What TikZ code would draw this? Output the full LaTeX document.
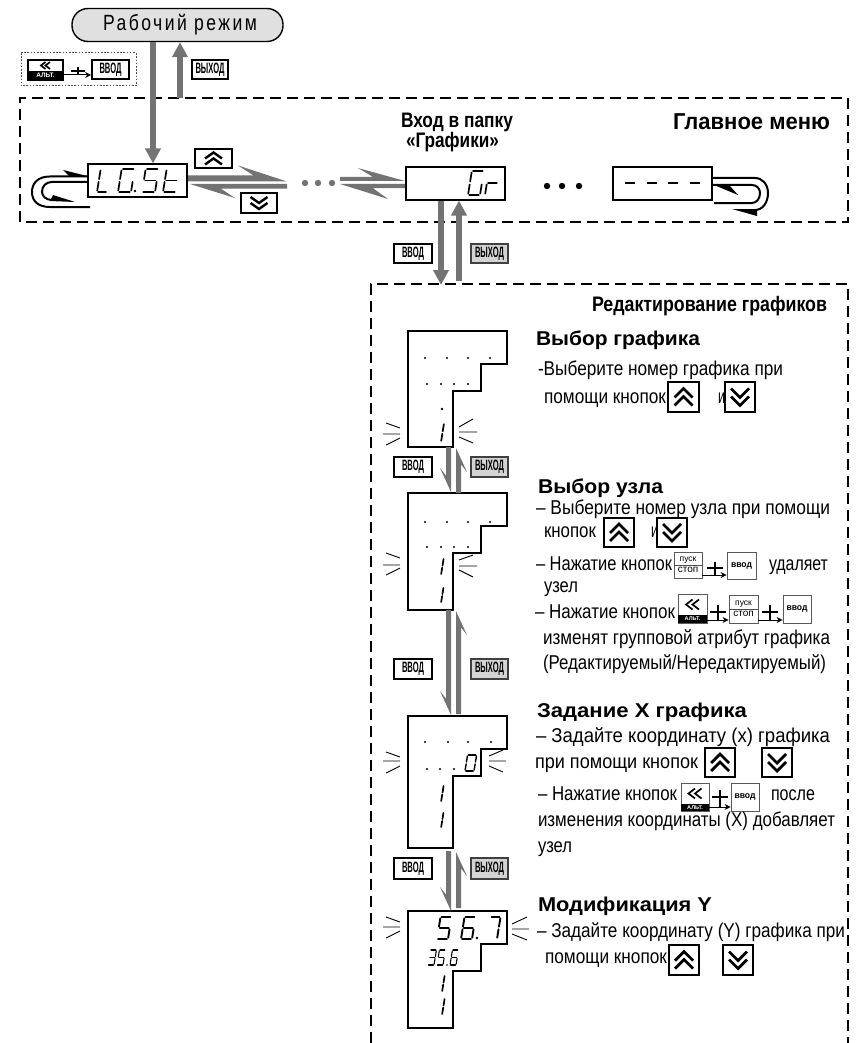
\documentclass[tikz,border=0pt]{standalone}
\usepackage{graphicx}
\usepackage{fontspec}
\setmainfont{Liberation Sans}
\newfontfamily\spacedfont[LetterSpace=14]{Liberation Sans}
\usetikzlibrary{arrows.meta,calc}
\definecolor{flow}{gray}{0.45}
\tikzset{
  btnthick/.style={draw=black,line width=1.6pt,fill=white,rectangle,inner sep=0pt},
  btngray/.style={draw=black!75,line width=1.5pt,fill=black!17,rectangle,inner sep=0pt},
  btnthin/.style={draw=black!65,line width=.8pt,fill=white,rectangle,inner sep=0pt},
  btnchev/.style={draw=black,line width=1.8pt,fill=white,rectangle,inner sep=0pt},
  dispbox/.style={draw=black,line width=1.1pt,fill=white,rectangle,inner sep=0pt},
  frameline/.style={draw=black,line width=1.5pt,dash pattern=on 11pt off 6pt},
  flowarrow/.style={draw=flow,fill=flow,line width=5.5pt,-{Triangle[length=15pt,width=15pt]}},
  flash/.style={draw=black,line width=.9pt},
  segl/.style={draw=black,line cap=round},
  plusline/.style={draw=black,line width=1pt},
  txtnode/.style={anchor=base west,inner sep=0pt,outer sep=0pt},
}
% text set to a given width, horizontally scaled
\newcommand{\txt}[5]{\node[txtnode] (#1) at (#2,#3) {\resizebox{#4pt}{\height}{\fontsize{20}{22}\selectfont #5}};}
\newcommand{\hdr}[5]{\node[txtnode] (#1) at (#2,#3) {\resizebox{#4pt}{\height}{\fontsize{20}{22}\selectfont\bfseries #5}};}
\newcommand{\ttl}[6]{\node[txtnode] (#1) at (#2,#3) {\resizebox{#4pt}{\height}{\fontsize{#5}{24}\selectfont\bfseries #6}};}
% button by corners
\newcommand{\btn}[7]{\node[#6,minimum width={(#4-#2)*1pt},minimum height={(#5-#3)*1pt}] (#1) at ({(#2+#4)/2},{(#3+#5)/2}) {\resizebox{#7pt}{\height}{\btnlabel}};}
\newcommand{\lab}[5]{\def\btnlabel{\fontsize{#3}{#3}\selectfont\bfseries #4}\btn#1{#2}{#5}}
% chevrons in a button
\newcommand{\chevs}[6]{\begin{scope}[shift={(#1.center)},yscale=#6]
 \draw[draw=black,line width=#5pt,miter limit=4] ({-#2},{-(#3+#4)/2+#3}) -- (0,{-(#3+#4)/2}) -- (#2,{-(#3+#4)/2+#3});
 \draw[draw=black,line width=#5pt,miter limit=4] ({-#2},{-(#3+#4)/2+#3+#4}) -- (0,{-(#3+#4)/2+#4}) -- (#2,{-(#3+#4)/2+#3+#4});
\end{scope}}
% ALT button
\newcommand{\altbtn}[9]{\node[#6,minimum width={(#4-#2)*1pt},minimum height={(#5-#3)*1pt}] (#1) at ({(#2+#4)/2},{(#3+#5)/2}) {};
 \fill[black] (#2,#7) rectangle (#4,#5);
 \node[inner sep=0pt,text=white] (#1t) at ({(#2+#4)/2},{(#7+#5)/2}) {\fontsize{#8}{#8}\selectfont\bfseries АЛЬТ.};
 \begin{scope}[shift={({(#2+#4)/2},{(#3+#7)/2})}]
  \draw[draw=black,line width=1.7pt] (0,{-#9}) -- ({-1.3*#9},0) -- (0,#9);
  \draw[draw=black,line width=1.7pt] ({1.3*#9},{-#9}) -- (0,0) -- ({1.3*#9},#9);
 \end{scope}}
% plus-and-arrow between two buttons
\newcommand{\plusarrow}[7]{
 \draw[plusline,-{Stealth[length=6pt,width=6pt]}] (#1.east |- 0,#3) -- (#2.west |- 0,#3);
 \draw[plusline,line width=1.2pt] ({#4-#6},#5) -- ({#4+#6},#5);
 \draw[plusline,line width=1.2pt] (#4,#7) -- (#4,#3);}
% seven segment glyph
\newcommand{\mysega}{\draw[segl] (.1,0) -- (.9,0);}
\newcommand{\mysegb}{\draw[segl] (1,.06) -- (1,.44);}
\newcommand{\mysegc}{\draw[segl] (1,.56) -- (1,.94);}
\newcommand{\mysegd}{\draw[segl] (.1,1) -- (.9,1);}
\newcommand{\mysege}{\draw[segl] (0,.56) -- (0,.94);}
\newcommand{\mysegf}{\draw[segl] (0,.06) -- (0,.44);}
\newcommand{\mysegg}{\draw[segl] (.1,.5) -- (.9,.5);}
\newcommand{\sev}[6]{\begin{scope}[shift={({#1+.16*#4},#2)},x=#3pt,y=-#4pt,xslant=.16,line width=#6pt]
 \foreach \s in {#5}{\csname myseg\s\endcsname}
\end{scope}}
\newcommand{\one}[3]{\sev{#1}{#2}{0.01}{#3}{b,c}{1.7}}
% display outline
\newcommand{\display}[3]{\draw[draw=black,line width=1.1pt,fill=white] (408,#2) -- (507,#2) -- (507,{#2+33}) -- (481,{#2+33}) -- (481,{#2+60}) -- (453,{#2+60}) -- (453,#3) -- (408,#3) -- cycle;
 \coordinate (#1) at (430,#2);}
\newcommand{\dotrow}[2]{\foreach \x in {#2}{\fill[black] (\x,#1) circle (1.2pt);}}
% harpoon: tail, tip, shaft width, length, barb width, side
\newcommand{\harp}[6]{\pgfmathsetmacro\notch{.68*#4}
 \fill[flow] (#1) -- (#2) -- ($(#2)!#4pt!(#1)!#5pt!#6:(#1)$) -- ($(#2)!\notch pt!(#1)!#3pt!#6:(#1)$) -- ($(#1)!#3pt!-#6:(#2)$) -- cycle;}
\begin{document}
\begin{tikzpicture}[x=1pt,y=-1pt]
\useasboundingbox (0,0) rectangle (856,1043);
\fill[white] (0,0) rectangle (856,1043);
% frames
\draw[frameline] (20,222) -- (20,98) -- (848,98) -- (848,222) -- cycle;
\draw[frameline] (371,1043) -- (371,284) -- (848,284) -- (848,1043);
\draw[draw=black!70,line width=1pt,dash pattern=on 1.6pt off 1.6pt] (21,53) rectangle (136,86);
% working mode
\node[draw=black,line width=1.4pt,fill=black!12,rounded corners=16pt,minimum width=211pt,minimum height=33pt,inner sep=0pt] (pill) at (177.5,25) {};
\node[txtnode] (pilltext) at (103,31) {\resizebox{154pt}{\height}{\fontsize{22}{24}\spacedfont Рабочий режим}};
% display boxes of the main menu
\node[dispbox,minimum width=99pt,minimum height=33pt] (lgst) at (137.5,180.5) {};
\node[dispbox,minimum width=99pt,minimum height=33pt] (gr) at (455.5,183.5) {};
\node[dispbox,minimum width=99pt,minimum height=33pt] (dash) at (662.5,183.5) {};
\sev{97}{169}{10}{23}{f,e,d}{1.7}
\sev{118}{169}{13}{23}{a,f,e,d,c}{1.7}
\fill[black] (135,191) circle (1.3pt);
\sev{142}{169}{13}{23}{a,f,g,c,d}{1.7}
\sev{163}{169}{13}{23}{f,e,g,d}{1.7}
\sev{468}{171}{12}{24}{a,f,e,d,c}{1.7}
\sev{485}{171}{11}{24}{e,g}{1.7}
\foreach \x in {625,647,668,690}{\draw[draw=black,line width=1.7pt] (\x,183) -- ({\x+10},183);}
% buttons, top part
\altbtn{alt1}{28}{60}{63}{80}{btnthick}{71}{6.5}{3.5}
\lab{{vvod1}{92}{60}{129}{79}}{btnthick}{15}{ВВОД}{22}
\lab{{vyh1}{192}{60}{228}{79}}{btnthick}{15}{ВЫХОД}{29}
\plusarrow{alt1}{vvod1}{75}{78}{71}{7}{67}
\node[btnchev,minimum width=37pt,minimum height=19pt] (up1) at (213.5,158.5) {};
\chevs{up1}{8.5}{6}{6}{2.4}{1}
\node[btnchev,minimum width=36pt,minimum height=20pt] (dn1) at (259,203) {};
\chevs{dn1}{8.5}{6}{6}{2.4}{-1}
% main arrows
\draw[flowarrow] (153,0 |- pill.south) -- (153,0 |- lgst.north);
\coordinate (f1) at (180,98);
\draw[flowarrow] (f1) -- (180,0 |- pill.south);
% harpoons
\coordinate (h1a) at (188,181.5); \coordinate (h1b) at (287,181.5);
\coordinate (h2a) at (287,184); \coordinate (h2b) at (190,184);
\coordinate (h3a) at (340,181); \coordinate (h3b) at (405,181);
\coordinate (h4a) at (405,184); \coordinate (h4b) at (340,184);
\harp{h1a}{h1b}{6}{49}{16}{-90}
\harp{h2a}{h2b}{4.5}{45}{14}{-90}
\harp{h3a}{h3b}{4}{47}{13}{-90}
\harp{h4a}{h4b}{4}{48}{15}{-90}
\foreach \x in {305,318,332}{\fill[flow] (\x,183) circle (3.2pt);}
\foreach \x in {547,562,579}{\fill[black] (\x,186) circle (3.2pt);}
% left loop
\draw[draw=black,line width=2pt] (88,176.5) -- (50,176.5) .. controls (38,176.5) and (32,183) .. (32,192) .. controls (32,201) and (38,207) .. (50,207) -- (90,207);
\draw[draw=black,line width=2pt] (88,182) -- (52,182) .. controls (46,182) and (42,186) .. (42,192) .. controls (42,196) and (46,200) .. (52,200);
\fill[black] (87,176) -- (63,170) -- (70,177) -- cycle;
\fill[black] (53,195) -- (75,202) -- (50,201) -- cycle;
% right loop
\draw[draw=black,line width=2pt] (712,178) -- (755,178) .. controls (763,178) and (768,185) .. (768,193) .. controls (768,202) and (763,210) .. (755,210);
\draw[draw=black,line width=2pt] (712,185) -- (752,185) .. controls (757,185) and (760,189) .. (760,193) .. controls (760,198) and (757,203) .. (752,203) -- (714,203);
\fill[black] (714,185) -- (738,195) -- (730,186) -- cycle;
\fill[black] (732,209) -- (757,216) -- (757,209) -- cycle;
% titles
\ttl{t1}{401}{128}{112}{21}{Вход в папку}
\ttl{t2}{406}{148}{93}{21}{«Графики»}
\ttl{t3}{673}{130}{157}{23}{Главное меню}
\ttl{t4}{592}{311}{235}{21}{Редактирование графиков}
% Gr arrows
\coordinate (g1) at (441,285); \coordinate (g2) at (459,281);
\draw[flowarrow] (441,0 |- gr.south) -- (g1);
\draw[flowarrow] (g2) -- (459,0 |- gr.south);
\lab{{vvod2}{394}{244}{432}{263}}{btnthick}{15}{ВВОД}{22}
\lab{{vyh2}{471}{244}{508}{263}}{btngray}{15}{ВЫХОД}{29}
% displays
\display{d1}{331}{447}
\display{d2}{493}{610}
\display{d3}{716}{848}
\display{d4}{911}{1028}
% display 1
\dotrow{358}{425,447,468,490}
\dotrow{384}{427,441,454,468}
\fill[black] (442,409) circle (1.3pt);
\one{441}{423}{19}
\draw[flash] (386,423) -- (400,428) (383,434) -- (400,434) (386,445) -- (400,438);
\draw[flash] (473,419) -- (459,427) (477,432) -- (459,432) (473,443) -- (459,437);
% display 2
\dotrow{522}{425,447,468,490}
\dotrow{547}{427,441,454,468}
\one{441}{558}{17}
\one{441}{587}{16}
\draw[flash] (386,553) -- (400,558) (383,565) -- (400,565) (386,575) -- (400,568);
\draw[flash] (473,555) -- (459,560) (477,566) -- (459,566) (473,577) -- (459,570);
% display 3
\dotrow{742}{425,448,468,491}
\dotrow{769}{427,440,454}
\sev{465}{755}{9}{16}{a,b,c,d,e,f}{1.4}
\one{441}{785}{17}
\one{441}{812}{16}
\draw[flash] (386,752) -- (400,757) (383,761) -- (400,761) (386,773) -- (400,766);
\draw[flash] (503,750) -- (489,756) (506,761) -- (489,761) (503,772) -- (489,766);
% display 4
\sev{437}{917}{11}{22}{a,f,g,c,d}{1.9}
\sev{461}{917}{11}{22}{a,f,g,e,c,d}{1.9}
\fill[black] (477,938) circle (1.4pt);
\sev{487}{917}{10}{22}{a,b,c}{1.9}
\sev{428}{950}{6}{15}{a,b,g,c,d}{1.1}
\sev{437}{950}{6}{15}{a,f,g,c,d}{1.1}
\fill[black] (447,965) circle (.9pt);
\sev{450}{950}{6}{15}{a,f,g,e,c,d}{1.1}
\one{442}{975}{17}
\one{442}{998}{17}
\draw[flash] (386,917) -- (400,922) (383,927) -- (400,927) (386,938) -- (400,931);
\draw[flash] (527,917) -- (512,924) (529,929) -- (512,929) (527,940) -- (512,934);
% arrows between displays
\coordinate (a1) at (451,447); \coordinate (a2) at (451,492);
\coordinate (a3) at (456,493); \coordinate (a4) at (456,448);
\harp{a1}{a2}{5}{24}{11}{90}
\harp{a3}{a4}{5}{24}{11}{90}
\coordinate (b1) at (451,610); \coordinate (b2) at (451,715);
\coordinate (b3) at (456,714); \coordinate (b4) at (456,611);
\harp{b1}{b2}{5}{24}{11}{90}
\harp{b3}{b4}{5}{24}{11}{90}
\coordinate (c1) at (451,851); \coordinate (c2) at (451,911);
\coordinate (c3) at (456,908); \coordinate (c4) at (456,852);
\harp{c1}{c2}{5}{24}{11}{90}
\harp{c3}{c4}{5}{24}{11}{90}
\lab{{vvod3}{394}{457}{432}{477}}{btnthick}{15}{ВВОД}{22}
\lab{{vyh3}{471}{457}{508}{477}}{btngray}{15}{ВЫХОД}{29}
\lab{{vvod4}{394}{659}{432}{679}}{btnthick}{15}{ВВОД}{22}
\lab{{vyh4}{471}{659}{508}{679}}{btngray}{15}{ВЫХОД}{29}
\lab{{vvod5}{394}{858}{432}{879}}{btnthick}{15}{ВВОД}{22}
\lab{{vyh5}{471}{858}{508}{879}}{btngray}{15}{ВЫХОД}{29}
% section 1
\hdr{s1}{536}{345}{164}{Выбор графика}
\txt{s1a}{538}{375}{245}{-Выберите номер графика при}
\txt{s1b}{544}{403}{122}{помощи кнопок}
\txt{s1c}{718}{403}{7}{и}
\node[btnchev,minimum width=31pt,minimum height=30pt] (up2) at (683.5,397) {};
\chevs{up2}{9}{9}{8}{2.8}{1}
\node[btnchev,minimum width=30pt,minimum height=30pt] (dn2) at (740,397) {};
\chevs{dn2}{9}{9}{8}{2.8}{-1}
% section 2
\hdr{s2}{538}{493}{125}{Выбор узла}
\txt{s2a}{536}{514}{294}{– Выберите номер узла при помощи}
\txt{s2b}{544}{537}{52}{кнопок}
\txt{s2c}{651}{537}{7}{и}
\node[btnchev,minimum width=30pt,minimum height=29pt] (up3) at (619,532.5) {};
\chevs{up3}{9}{9}{8}{2.8}{1}
\node[btnchev,minimum width=30pt,minimum height=29pt] (dn3) at (672,532.5) {};
\chevs{dn3}{9}{9}{8}{2.8}{-1}
\txt{s2d}{536}{570}{136}{– Нажатие кнопок}
\node[btnthin,minimum width=28pt,minimum height=26pt,align=center] (pusk1) at (688,565) {\fontsize{8.5}{14}\selectfont пуск\\[-.5pt]стоп};
\draw[draw=black!70,line width=.7pt] (pusk1.west) -- (pusk1.east);
\lab{{vvod6}{727}{552}{756}{579}}{btnthin}{9}{ввод}{21}
\plusarrow{pusk1}{vvod6}{575}{715}{568}{8}{562}
\txt{s2e}{769}{570}{59}{удаляет}
\txt{s2f}{544}{592}{34}{узел}
\txt{s2g}{535}{618}{140}{– Нажатие кнопок}
\altbtn{alt2}{678}{594}{707}{623}{btnthin}{615}{5.5}{5}
\node[btnthin,minimum width=29pt,minimum height=28pt,align=center] (pusk2) at (743.5,609) {\fontsize{8.5}{14}\selectfont пуск\\[-.5pt]стоп};
\draw[draw=black!70,line width=.7pt] (pusk2.west) -- (pusk2.east);
\lab{{vvod7}{783}{595}{811}{623}}{btnthin}{9}{ввод}{21}
\plusarrow{alt2}{pusk2}{620}{718}{612}{8}{605}
\plusarrow{pusk2}{vvod7}{620}{770}{612}{8}{605}
\txt{s2h}{543}{644}{287}{изменят групповой атрибут графика}
\txt{s2i}{543}{669}{283}{(Редактируемый/Нередактируемый)}
% section 3
\hdr{s3}{537}{717}{210}{Задание X графика}
\txt{s3a}{536}{742}{294}{– Задайте координату (x) графика}
\txt{s3b}{535}{768}{163}{при помощи кнопок}
\node[btnchev,minimum width=30pt,minimum height=29pt] (up4) at (720,762.5) {};
\chevs{up4}{9}{9}{8}{2.8}{1}
\node[btnchev,minimum width=30pt,minimum height=29pt] (dn4) at (777,762.5) {};
\chevs{dn4}{9}{9}{8}{2.8}{-1}
\txt{s3c}{538}{800}{139}{– Нажатие кнопок}
\altbtn{alt3}{681}{783}{709}{811}{btnthin}{804}{5.5}{5}
\lab{{vvod8}{731}{783}{759}{811}}{btnthin}{9}{ввод}{21}
\plusarrow{alt3}{vvod8}{807}{720}{797}{8}{790}
\txt{s3d}{771}{800}{44}{после}
\txt{s3e}{538}{826}{297}{изменения координаты (X) добавляет}
\txt{s3f}{538}{852}{34}{узел}
% section 4
\hdr{s4}{538}{911}{174}{Модификация Y}
\txt{s4a}{537}{937}{308}{– Задайте координату (Y) графика при}
\txt{s4b}{545}{963}{122}{помощи кнопок}
\node[btnchev,minimum width=30pt,minimum height=30pt] (up5) at (684,960) {};
\chevs{up5}{9}{9}{8}{2.8}{1}
\node[btnchev,minimum width=30pt,minimum height=30pt] (dn5) at (738,960) {};
\chevs{dn5}{9}{9}{8}{2.8}{-1}
\end{tikzpicture}
\end{document}
